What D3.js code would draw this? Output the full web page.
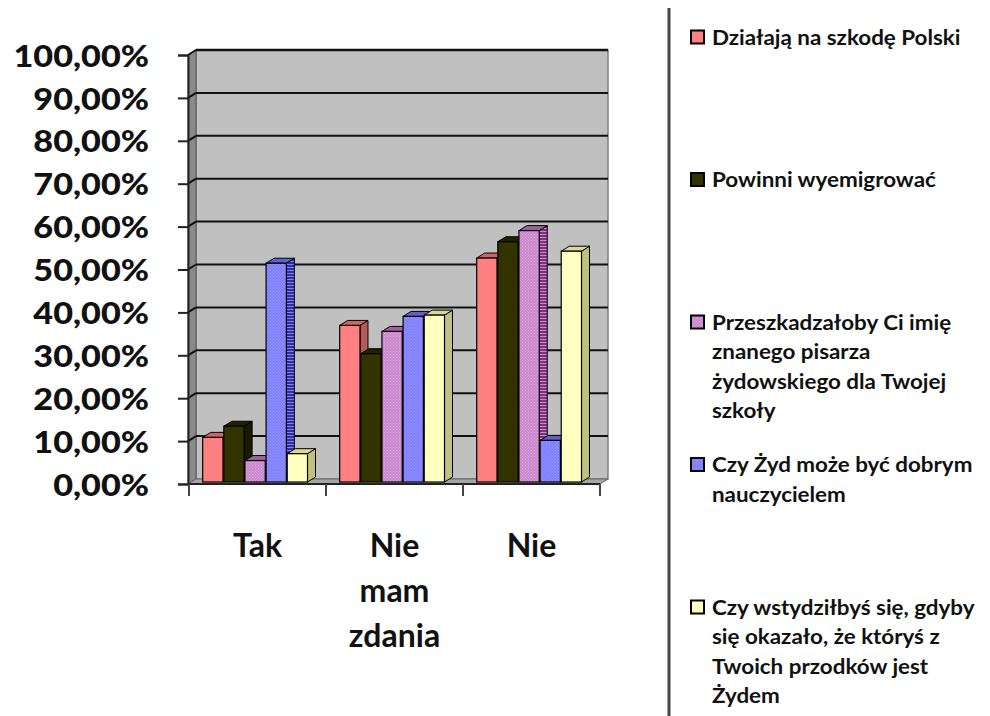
<!DOCTYPE html>
<html><head><meta charset="utf-8">
<script src="https://cdn.jsdelivr.net/npm/d3@7"></script>
<style>body{margin:0;background:#fff}svg{display:block}</style>
</head><body>
<svg id="c" width="990" height="716"></svg>
<script>
// ---- data ----
const categories = ["Tak", "Nie mam zdania", "Nie"];
const categoryLines = [["Tak"], ["Nie", "mam", "zdania"], ["Nie"]];
const seriesNames = [
  "Działają na szkodę Polski",
  "Powinni wyemigrować",
  "Przeszkadzałoby Ci imię znanego pisarza żydowskiego dla Twojej szkoły",
  "Czy Żyd może być dobrym nauczycielem",
  "Czy wstydziłbyś się, gdyby się okazało, że któryś z Twoich przodków jest Żydem"
];
const legendLines = [
  ["Działają na szkodę Polski"],
  ["Powinni wyemigrować"],
  ["Przeszkadzałoby Ci imię", "znanego pisarza", "żydowskiego dla Twojej", "szkoły"],
  ["Czy Żyd może być dobrym", "nauczycielem"],
  ["Czy wstydziłbyś się, gdyby", "się okazało, że któryś z", "Twoich przodków jest", "Żydem"]
];
const dzialaja   = [10.4, 36.5, 52.2];
const powinni    = [13.0, 29.9, 56.0];
const przeszkadza= [5.0, 35.1, 58.6];
const czyZyd     = [51.0, 38.6, 9.7];
const czyWstyd   = [6.6, 38.9, 53.8];
const seriesValues = [dzialaja, powinni, przeszkadza, czyZyd, czyWstyd];
const yTicks = [0,10,20,30,40,50,60,70,80,90,100];
const yTickLabels = ["0,00%","10,00%","20,00%","30,00%","40,00%","50,00%","60,00%","70,00%","80,00%","90,00%","100,00%"];

// ---- styles ----
const front = ["#FF8080","#333300","#CC88CC","#8080FF","#FFFFC0"];
const front2= ["#FF8080","#333300","#E0A8E0","#9898FF","#FFFFC0"];
const topC  = ["#CC6666","#222200","#A060A0","#6060D0","#D8D898"];
const sideC = ["#B35A5A","#1A1A00","#803080","#3030A0","#C0C080"];
const FONT = "Lato, 'Open Sans', sans-serif";

const svg = d3.select("#c");
const defs = svg.append("defs");
front.forEach((c,i)=>{
  if (i===2 || i===3){
    const p = defs.append("pattern").attr("id","pf"+i).attr("width",3).attr("height",3).attr("patternUnits","userSpaceOnUse");
    p.append("rect").attr("width",3).attr("height",3).attr("fill",front[i]);
    p.append("rect").attr("width",1).attr("height",1).attr("fill",front2[i]);
    p.append("rect").attr("x",1.5).attr("y",1.5).attr("width",1).attr("height",1).attr("fill",front2[i]);
    const s = defs.append("pattern").attr("id","ps"+i).attr("width",3).attr("height",3).attr("patternUnits","userSpaceOnUse");
    s.append("rect").attr("width",3).attr("height",3).attr("fill",sideC[i]);
    s.append("rect").attr("width",3).attr("height",1).attr("fill",front[i]);
  }
});
const fillF = i => (i===2||i===3) ? `url(#pf${i})` : front[i];
const fillS = i => (i===2||i===3) ? `url(#ps${i})` : sideC[i];

// ---- geometry ----
const DX = 8, DY = -5;
const y = d3.scaleLinear().domain([0,100]).range([484, 55]);
const x = d3.scaleBand().domain(categories).range([189, 600]);
const inner = d3.scaleBand().domain(d3.range(seriesNames.length))
  .range([x.bandwidth()*0.10, x.bandwidth()*0.865]).paddingInner(0.04);

// walls
const g = svg.append("g");
g.append("rect").attr("x", 188+DX).attr("y", y(100)+DY)
  .attr("width", 600-188).attr("height", y(0)-y(100))
  .attr("fill","#C0C0C0").attr("stroke","#808080").attr("stroke-width",1.5);
g.append("path").attr("d", `M188,${y(0)} L188,${y(100)} L${188+DX},${y(100)+DY} L${188+DX},${y(0)+DY} Z`)
  .attr("fill","#8A8A8A").attr("stroke","#555").attr("stroke-width",1);
g.append("path").attr("d", `M188,${y(0)} L${188+DX},${y(0)+DY} L${600+DX},${y(0)+DY} L600,${y(0)} Z`)
  .attr("fill","#A6A6A6").attr("stroke","#666").attr("stroke-width",1);
yTicks.filter(t=>t>0).forEach(t=>{
  g.append("line").attr("x1",188+DX).attr("x2",600+DX).attr("y1",y(t)+DY).attr("y2",y(t)+DY)
    .attr("stroke","#111").attr("stroke-width",t===100?2.5:2);
  g.append("line").attr("x1",188).attr("x2",188+DX).attr("y1",y(t)).attr("y2",y(t)+DY)
    .attr("stroke","#111").attr("stroke-width",2);
});

// bars
const yb = d3.scaleLinear().domain([0,100]).range([482, 53]);
const bdx = 8, bdy = -5;
categories.forEach((cat,ci)=>{
  seriesValues.forEach((vals,si)=>{
    const x0 = x(cat) + inner(si), w = inner.bandwidth();
    const yt = yb(vals[ci]), ybot = yb(0);
    const bg = g.append("g");
    bg.append("path").attr("d",`M${x0+w},${yt} L${x0+w+bdx},${yt+bdy} L${x0+w+bdx},${ybot+bdy} L${x0+w},${ybot} Z`)
      .attr("fill",fillS(si)).attr("stroke","#000").attr("stroke-width",1);
    bg.append("path").attr("d",`M${x0},${yt} L${x0+bdx},${yt+bdy} L${x0+w+bdx},${yt+bdy} L${x0+w},${yt} Z`)
      .attr("fill",topC[si]).attr("stroke","#000").attr("stroke-width",1);
    bg.append("rect").attr("x",x0).attr("y",yt).attr("width",w).attr("height",ybot-yt)
      .attr("fill",fillF(si)).attr("stroke","#000").attr("stroke-width",1.2);
  });
});

// axes
const yAxis = d3.axisLeft(y).tickValues(yTicks).tickSize(10).tickFormat("");
const ya = svg.append("g").attr("transform","translate(188,0)").call(yAxis);
ya.selectAll("path,line").attr("stroke","#222").attr("stroke-width",2);
yTicks.forEach((t,i)=>{
  svg.append("text").attr("transform",`translate(149,${y(t)}) scale(1.14,1)`)
    .attr("text-anchor","end").attr("dominant-baseline","central")
    .attr("font-family",FONT).attr("font-weight","900").attr("font-size",30)
    .attr("fill","#111").text(yTickLabels[i]);
});
const xa = svg.append("g").attr("transform",`translate(0,${y(0)})`);
xa.append("line").attr("x1",188).attr("x2",600).attr("stroke","#222").attr("stroke-width",2);
[...categories.map(c=>x(c)), 600].forEach(v=>{
  xa.append("line").attr("x1",v).attr("x2",v).attr("y1",0).attr("y2",12).attr("stroke","#444").attr("stroke-width",2);
});
categories.forEach((cat,ci)=>{
  categoryLines[ci].forEach((ln,li)=>{
    svg.append("text").attr("x", x(cat)+x.bandwidth()/2).attr("y", 557 + li*45)
      .attr("text-anchor","middle").attr("font-family",FONT).attr("font-weight","bold")
      .attr("font-size",32).attr("fill","#111").text(ln);
  });
});

// divider
svg.append("line").attr("x1",669).attr("x2",669).attr("y1",8).attr("y2",716)
  .attr("stroke","#474747").attr("stroke-width",3);

// legend
legendLines.forEach((lines,i)=>{
  const cy = 37 + i*142.5;
  svg.append("rect").attr("x",691).attr("y",cy-6.5).attr("width",13).attr("height",13)
    .attr("fill",fillF(i)).attr("stroke","#000").attr("stroke-width",2);
  lines.forEach((ln,li)=>{
    svg.append("text").attr("transform",`translate(712,${cy + li*29.5}) scale(1.12,1)`)
      .attr("dominant-baseline","central")
      .attr("font-family",FONT).attr("font-weight","bold").attr("font-size",20)
      .attr("fill","#111").text(ln);
  });
});
</script>
</body></html>
